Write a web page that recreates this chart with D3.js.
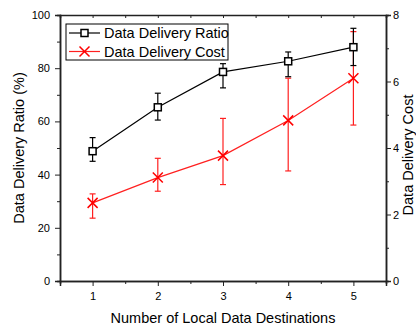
<!DOCTYPE html>
<html>
<head>
<meta charset="utf-8">
<script src="https://cdn.jsdelivr.net/npm/d3@7"></script>
<style>
  body { margin: 0; background: #fff; }
  text { font-family: "Liberation Sans", Arial, sans-serif; fill: #000; }
</style>
</head>
<body>
<svg id="chart" width="416" height="326"></svg>
<script>
const destinations = [1, 2, 3, 4, 5];
const ratio = [48.8, 65.3, 78.6, 82.6, 87.9];
const ratioHi = [53.9, 70.6, 81.7, 86.1, 95.0];
const ratioLo = [45.0, 60.5, 72.6, 76.8, 81.0];
const cost = [2.35, 3.11, 3.77, 4.83, 6.10];
const costHi = [2.62, 3.69, 4.89, 6.10, 7.50];
const costLo = [1.89, 2.70, 2.90, 3.31, 4.69];
const leftTicks = [0, 20, 40, 60, 80, 100];
const rightTicks = [0, 2, 4, 6, 8];

const svg = d3.select('#chart');
const margin = { top: 15, right: 30, bottom: 45, left: 60 };
const width = 416 - margin.left - margin.right;
const height = 326 - margin.top - margin.bottom;

const x = d3.scaleLinear().domain([0.5, 5.5]).range([margin.left, margin.left + width]);
const yL = d3.scaleLinear().domain([0, 100]).range([margin.top + height, margin.top]);
const yR = d3.scaleLinear().domain([0, 8]).range([margin.top + height, margin.top]);

const axisStyle = g => {
  g.select('.domain').attr('stroke', '#222').attr('stroke-width', 1.5);
  g.selectAll('line').attr('stroke', '#222').attr('stroke-width', 1);
  g.selectAll('text').attr('font-size', 11).attr('fill', '#000');
};

// minor ticks first
svg.append('g')
  .attr('transform', `translate(0,${margin.top + height})`)
  .call(d3.axisBottom(x).tickValues([1.5, 2.5, 3.5, 4.5]).tickSize(3).tickFormat(''))
  .call(axisStyle);
svg.append('g')
  .attr('transform', `translate(0,${margin.top})`)
  .call(d3.axisBottom(x).tickValues([1, 1.5, 2, 2.5, 3, 3.5, 4, 4.5, 5]).tickSize(3).tickFormat(''))
  .call(axisStyle);
svg.append('g')
  .attr('transform', `translate(${margin.left},0)`)
  .call(d3.axisLeft(yL).tickValues([10, 30, 50, 70, 90]).tickSize(3).tickFormat(''))
  .call(axisStyle);
svg.append('g')
  .attr('transform', `translate(${margin.left + width},0)`)
  .call(d3.axisRight(yR).tickValues([1, 3, 5, 7]).tickSize(3).tickFormat(''))
  .call(axisStyle);

// major axes
svg.append('g')
  .attr('transform', `translate(0,${margin.top + height})`)
  .call(d3.axisBottom(x).tickValues(destinations).tickSize(5).tickPadding(6).tickFormat(d3.format('d')))
  .call(axisStyle);
svg.append('g')
  .attr('transform', `translate(${margin.left},0)`)
  .call(d3.axisLeft(yL).tickValues(leftTicks).tickSize(5).tickPadding(5))
  .call(axisStyle);
svg.append('g')
  .attr('transform', `translate(${margin.left + width},0)`)
  .call(d3.axisRight(yR).tickValues(rightTicks).tickSize(5).tickPadding(2))
  .call(axisStyle);

// axis titles
svg.append('text')
  .attr('x', x(3)).attr('y', 322.5)
  .attr('text-anchor', 'middle').attr('font-size', 14.5)
  .text('Number of Local Data Destinations');
svg.append('text')
  .attr('transform', `translate(24,${margin.top + height / 2}) rotate(-90)`)
  .attr('text-anchor', 'middle').attr('font-size', 14.5)
  .text('Data Delivery Ratio (%)');
svg.append('text')
  .attr('transform', `translate(413,${margin.top + height / 2 + 7}) rotate(-90)`)
  .attr('text-anchor', 'middle').attr('font-size', 14.5)
  .text('Data Delivery Cost');

const cap = 3;

// cost series (red)
const costG = svg.append('g');
destinations.forEach((d, i) => {
  const cx = x(d);
  costG.append('line').attr('x1', cx).attr('x2', cx).attr('y1', yR(costLo[i])).attr('y2', yR(costHi[i]))
    .attr('stroke', '#ff2020').attr('stroke-width', 1.2);
  [costLo[i], costHi[i]].forEach(v => {
    costG.append('line').attr('x1', cx - cap).attr('x2', cx + cap).attr('y1', yR(v)).attr('y2', yR(v))
      .attr('stroke', '#ff2020').attr('stroke-width', 1.2);
  });
});
costG.append('path')
  .datum(cost)
  .attr('fill', 'none').attr('stroke', '#ff2020').attr('stroke-width', 1.2)
  .attr('d', d3.line().x((d, i) => x(destinations[i])).y(d => yR(d)));
const xMark = (g, cx, cy, s) => {
  g.append('path')
    .attr('d', `M${cx - s},${cy - s}L${cx + s},${cy + s}M${cx - s},${cy + s}L${cx + s},${cy - s}`)
    .attr('stroke', '#ff0000').attr('stroke-width', 1.5).attr('fill', 'none');
};
cost.forEach((v, i) => xMark(costG, x(destinations[i]), yR(v), 5));

// ratio series (black)
const ratioG = svg.append('g');
destinations.forEach((d, i) => {
  const cx = x(d);
  ratioG.append('line').attr('x1', cx).attr('x2', cx).attr('y1', yL(ratioLo[i])).attr('y2', yL(ratioHi[i]))
    .attr('stroke', '#000').attr('stroke-width', 1.2);
  [ratioLo[i], ratioHi[i]].forEach(v => {
    ratioG.append('line').attr('x1', cx - cap).attr('x2', cx + cap).attr('y1', yL(v)).attr('y2', yL(v))
      .attr('stroke', '#000').attr('stroke-width', 1.2);
  });
});
ratioG.append('path')
  .datum(ratio)
  .attr('fill', 'none').attr('stroke', '#000').attr('stroke-width', 1.2)
  .attr('d', d3.line().x((d, i) => x(destinations[i])).y(d => yL(d)));
ratioG.selectAll('rect')
  .data(ratio)
  .join('rect')
  .attr('x', (d, i) => x(destinations[i]) - 3.5)
  .attr('y', d => yL(d) - 3.5)
  .attr('width', 7).attr('height', 7)
  .attr('fill', '#fff').attr('stroke', '#000').attr('stroke-width', 1.5);

// legend
const legend = svg.append('g');
legend.append('rect')
  .attr('x', 66).attr('y', 24).attr('width', 162).attr('height', 36)
  .attr('fill', '#fff').attr('stroke', '#000').attr('stroke-width', 1);
legend.append('line').attr('x1', 69).attr('x2', 100).attr('y1', 33).attr('y2', 33)
  .attr('stroke', '#000').attr('stroke-width', 1.2);
legend.append('rect').attr('x', 81).attr('y', 29.5).attr('width', 7).attr('height', 7)
  .attr('fill', '#fff').attr('stroke', '#000').attr('stroke-width', 1.5);
legend.append('text').attr('x', 104).attr('y', 38).attr('font-size', 14.5).text('Data Delivery Ratio');
legend.append('line').attr('x1', 69).attr('x2', 100).attr('y1', 51.5).attr('y2', 51.5)
  .attr('stroke', '#ff2020').attr('stroke-width', 1.2);
xMark(legend, 84.5, 51.5, 5);
legend.append('text').attr('x', 104).attr('y', 56.5).attr('font-size', 14.5).text('Data Delivery Cost');
</script>
</body>
</html>
